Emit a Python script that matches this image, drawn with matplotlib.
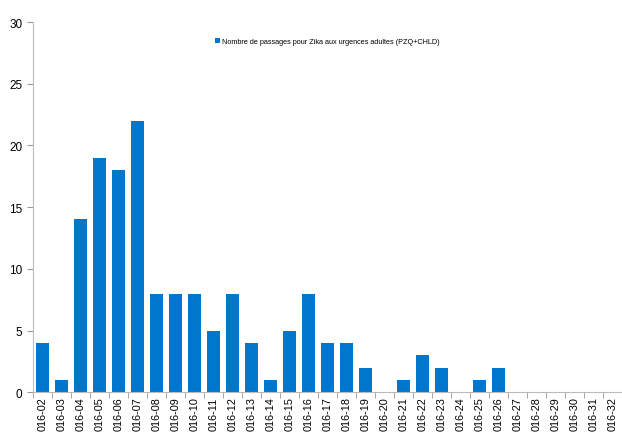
import numpy as np
import matplotlib.pyplot as plt

# week labels as they show under the axis (leading "2" of 2016 is cut in the source)
weeks = ["016-%02d" % w for w in range(2, 33)]
passages = [4, 1, 14, 19, 18, 22, 8, 8, 8, 5, 8, 4, 1, 5, 8, 4, 4, 2, 0, 1,
            3, 2, 0, 1, 2, 0, 0, 0, 0, 0, 0]
label = "Nombre de passages pour Zika aux urgences adultes (PZQ+CHLD)"

fig = plt.figure(figsize=(6.22, 4.35), dpi=100)
ax = fig.add_axes([0.053, 0.096, 0.947, 0.851])

x = np.arange(len(weeks))
ax.bar(x, passages, width=0.68, color="#0077CC", label=label, zorder=2)

ax.set_xlim(-0.5, len(weeks) - 0.5)
ax.set_ylim(0, 30)
ax.set_yticks(range(0, 31, 5))
ax.set_xticks(x)
ax.set_xticklabels(weeks, rotation=90, fontsize=7.8, fontfamily="Liberation Sans")
ax.set_xticks(np.arange(-0.5, len(weeks), 1), minor=True)
ax.tick_params(axis="x", which="major", length=0, pad=3)
ax.tick_params(axis="x", which="minor", length=4, color="#999999")
ax.tick_params(axis="y", length=4, color="#999999", labelsize=8.5)
for t in ax.get_yticklabels():
    t.set_fontfamily("Liberation Sans")

for s in ["top", "right"]:
    ax.spines[s].set_visible(False)
ax.spines["left"].set_color("#bbbbbb")
ax.spines["bottom"].set_color("#bbbbbb")

ax.legend(loc="upper center", bbox_to_anchor=(0.5, 0.975), frameon=False,
          prop={"family": "Liberation Sans", "size": 5.2},
          handlelength=0.6, handleheight=0.6, handletextpad=0.3)

fig.savefig("out.png", dpi=100)
